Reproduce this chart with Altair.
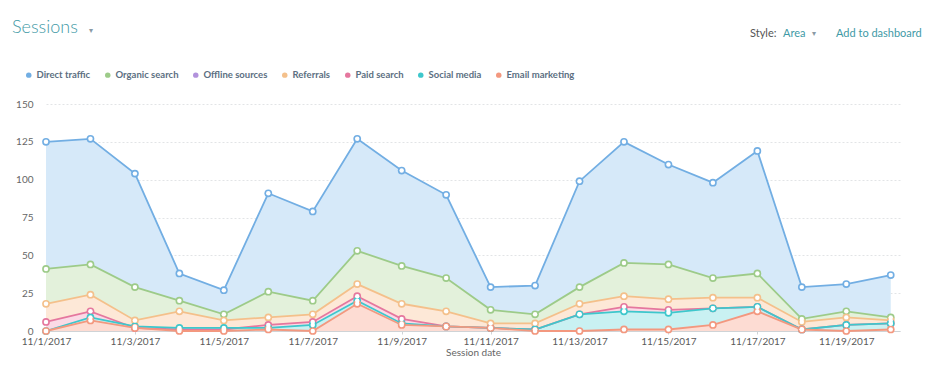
import altair as alt
import pandas as pd

dates = [f"2017-11-{d:02d}" for d in range(1, 21)]
series = ["Direct traffic", "Organic search", "Offline sources", "Referrals",
          "Paid search", "Social media", "Email marketing"]
direct = [125, 127, 104, 38, 27, 91, 79, 127, 106, 90, 29, 30, 99, 125, 110, 98, 119, 29, 31, 37]
organic = [41, 44, 29, 20, 11, 26, 20, 53, 43, 35, 14, 11, 29, 45, 44, 35, 38, 8, 13, 9]
offline = []  # listed in the legend, no points drawn
referrals = [18, 24, 7, 13, 7, 9, 11, 31, 18, 13, 5, 5, 18, 23, 21, 22, 22, 6, 9, 7]
paid = [6, 13, 2, 1, 1, 4, 6, 23, 8, 3, 2, 1, 11, 16, 14, 15, 16, 1, 4, 5]
social = [0, 9, 3, 2, 2, 2, 4, 20, 5, 3, 2, 1, 11, 13, 12, 15, 16, 1, 4, 5]
email = [0, 7, 2, 0, 0, 1, 0, 18, 4, 3, 2, 0, 0, 1, 1, 4, 13, 1, 0, 1]
values = [direct, organic, offline, referrals, paid, social, email]

line_colors = ["#72aee3", "#9dcb89", "#b292dc", "#f4c08b", "#e5779e", "#3ec7cc", "#f3987f"]
fill_colors = ["#d6e9f9", "#e3f1db", "#ece2f6", "#fde8d7", "#fbdae6", "#c9f1f2", "#fddcd3"]

rows = []
for s, vals, lc, fc in zip(series, values, line_colors, fill_colors):
    for d, v in zip(dates, vals):
        rows.append({"date": d, "series": s, "sessions": v, "lc": lc, "fc": fc})
df = pd.DataFrame(rows)

x_enc = alt.X(
    "date:T",
    scale=alt.Scale(type="utc",
                    domain=[alt.DateTime(year=2017, month=11, date=1, utc=True),
                            alt.DateTime(year=2017, month=11, date=20, hours=5, utc=True)]),
    axis=alt.Axis(
        values=[alt.DateTime(year=2017, month=11, date=d, utc=True) for d in range(1, 20, 2)],
        format="%-m/%-d/%Y", grid=False, domainColor="#cfd3d6", tickColor="#cfd3d6",
        tickSize=3, labelColor="#5a5a5a", labelFontSize=10, labelFont="Lato", labelPadding=2,
        labelFlush=False, labelOverlap=False,
        title="Session date", titleFontWeight="normal", titleColor="#666",
        titleFontSize=10, titleFont="Lato", titlePadding=1),
)
y_enc = alt.Y(
    "sessions:Q", stack=None,
    scale=alt.Scale(domain=[0, 150], nice=False),
    axis=alt.Axis(values=[0, 25, 50, 75, 100, 125, 150], grid=True, gridDash=[2, 2],
                  gridColor="#e2e4e6", domain=False, ticks=False, labelColor="#666",
                  labelFontSize=10, labelFont="Lato", labelPadding=13, title=None),
)

base = alt.Chart(df)
areas = base.mark_area(opacity=1).encode(
    x=x_enc, y=y_enc,
    fill=alt.Fill("fc:N", scale=None),
    detail="series:N",
)
lines = base.mark_line(strokeWidth=1.8).encode(
    x=x_enc, y=y_enc,
    stroke=alt.Stroke("lc:N", scale=None),
    detail="series:N",
)
dots = base.mark_point(filled=True, size=60, opacity=1).encode(
    x=x_enc, y=y_enc,
    color=alt.Color("series:N", scale=alt.Scale(domain=series, range=line_colors),
                    legend=alt.Legend(orient="none", legendX=-22, legendY=-34,
                                      direction="horizontal", title=None,
                                      symbolType="circle", symbolSize=30,
                                      labelFont="Lato",
                                      labelFontSize=9.5, labelFontWeight="bold",
                                      labelColor="#5c6f82", columnPadding=12,
                                      labelOffset=3)),
)
holes = base.mark_point(filled=True, size=20, color="white", opacity=1).encode(
    x=x_enc, y=y_enc,
)


def label(text, x, y, size, color, weight="normal", align="left"):
    return alt.Chart(pd.DataFrame({"t": [text]})).mark_text(
        align=align, baseline="middle", font="Lato", fontSize=size,
        fontWeight=weight, color=color,
    ).encode(text="t:N", x=alt.value(x), y=alt.value(y))


header = [
    label("Sessions", -34, -76, 18, "#3f9aa6", 300),
    label("▾", 43, -73, 8, "#8a9aa5"),
    label("Style:", 704, -70, 11, "#555"),
    label("Area", 737, -70, 11, "#3f9aa6"),
    label("▾", 766, -70, 8, "#8a9aa5"),
    label("Add to dashboard", 790, -70, 11, "#3f9aa6"),
]

chart = alt.layer(areas, lines, dots, holes, *header).properties(
    width=854, height=227,
    autosize=alt.AutoSizeParams(type="none"),
    padding={"left": 38, "top": 96, "right": 26, "bottom": 26},
).configure_view(stroke=None)

chart.save("out.html", embed_options={"renderer": "svg", "actions": False})
